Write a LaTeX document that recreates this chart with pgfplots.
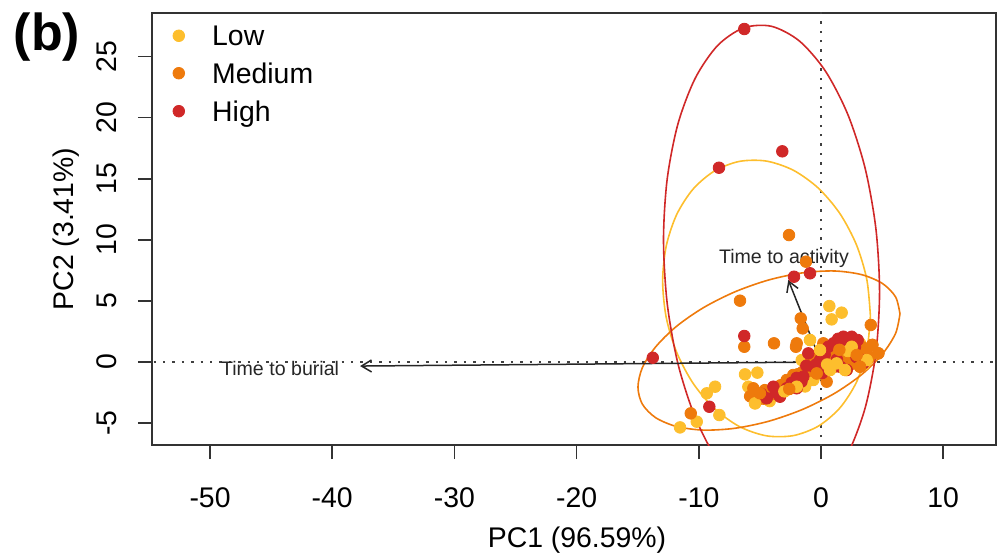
\documentclass[border=0pt]{standalone}
\usepackage{fontspec}
\setmainfont{Liberation Sans}
\usepackage{pgfplots}
\pgfplotsset{compat=1.18}
\usetikzlibrary{arrows.meta}
\definecolor{lowc}{RGB}{253,190,45}
\definecolor{medc}{RGB}{238,122,12}
\definecolor{highc}{RGB}{208,40,40}
\begin{document}
\begin{tikzpicture}
\useasboundingbox (-76pt,-56.5pt) rectangle (422.5pt,222.5pt);
\begin{axis}[
  at={(0,0)}, anchor=south west,
  scale only axis, width=422pt, height=216pt,
  xmin=-54.75, xmax=14.32, ymin=-6.79, ymax=28.56,
  axis line style={black!80, line width=0.8pt},
  xtick={-50,-40,-30,-20,-10,0,10},
  xticklabels={-50,-40,-30,-20,-10,0,10},
  ytick={-5,0,5,10,15,20,25},
  yticklabels={-5,0,5,10,15,20,25},
  tick pos=left,
  tick align=outside,
  major tick length=7pt,
  tick style={black!80, line width=0.8pt},
  tick label style={font=\fontsize{14.2pt}{17pt}\selectfont, text=black},
  xticklabel style={anchor=center, yshift=-19.5pt},
  yticklabel style={anchor=center, xshift=-15.5pt, rotate=90},
  legend style={at={(0,1)}, anchor=north west, yshift=-4.3pt, draw=none, fill=none,
    inner xsep=0pt, inner ysep=0pt, row sep=4.7pt,
    font=\fontsize{14.2pt}{17pt}\selectfont,
    nodes={inner sep=2pt, text depth=0pt}},
  legend cell align=left,
  legend image code/.code={\path (-13pt,0pt) (14.5pt,0pt); \draw[#1] plot coordinates {(0pt,0pt)};},
  pt/.style={only marks, mark=*, mark size=2.9pt, color=#1, mark options={draw=none, fill=#1}},
  refl/.style={black!75, line width=1.1pt, dash pattern=on 1.2pt off 3.5pt},
]
% reference lines
\addplot[refl, forget plot] coordinates {(-60,0) (20,0)};
\addplot[refl, forget plot] coordinates {(0,-10) (0,40)};

% Low
\addplot[pt=lowc] coordinates {
(0.68,4.58) (1.69,4.04) (0.87,3.49) (-0.90,1.80) (-6.22,-1.01) (-5.21,-0.87)
(-8.67,-2.02) (-9.35,-2.56) (-8.32,-4.34) (-10.17,-4.88) (-11.54,-5.35)
(-5.40,-3.38) (-5.95,-2.02) (-3.63,-2.29) (-3.36,-2.02) (-2.54,-2.02)
(-1.99,-2.02) (-1.17,-1.34) (-0.90,-1.47) (-0.63,-1.47) (0.19,-0.38)
(0.74,-0.65) (1.28,-0.11) (1.96,-0.65) (2.10,-0.65) (2.37,0.43) (2.92,0.43)
(3.19,1.53) (3.74,0.16) (-0.08,0.98) (1.28,0.71) (2.51,1.25) (-1.58,0.16)
(-4.80,-2.90) (-3.00,-2.40) (-2.20,-1.60) (-0.30,-1.00) (0.50,-0.20)
(1.60,0.30) (2.20,0.90) (3.20,0.80) (3.50,-0.20) (-4.20,-3.20) (-1.30,-2.00)
(0.90,1.20)
};
\addlegendentry{Low}
% Medium
\addplot[pt=medc] coordinates {
(-2.62,10.39) (-1.23,8.21) (-6.63,5.02) (-1.66,3.57) (-1.50,2.75) (-6.28,1.25)
(-3.85,1.53) (-1.99,1.53) (-2.05,1.25) (4.07,3.03) (4.69,0.71) (-10.66,-4.20)
(-5.54,-2.15) (-5.00,-2.56) (-4.70,-3.00) (-5.20,-3.10) (-4.20,-2.40)
(-3.30,-1.90) (-2.81,-1.47) (-2.27,-1.06) (-1.50,-0.80) (-0.35,-0.93)
(-0.90,-0.11) (0.46,-1.61) (0.19,1.53) (0.90,0.30) (1.15,-0.38) (1.80,-0.20)
(2.10,0.43) (2.92,0.57) (3.19,-0.38) (3.74,0.71) (3.90,0.30) (-0.50,0.50)
(-4.60,-2.30) (-3.80,-2.60) (-2.60,-2.20) (-1.90,-1.00) (-0.90,-0.70)
(0.00,-0.50) (0.70,0.90) (1.50,1.00) (2.40,-0.20) (2.70,1.60) (3.40,1.20)
(4.20,1.40) (-5.80,-2.80)
};
\addlegendentry{Medium}
% High
\addplot[pt=highc] coordinates {
(-6.28,27.25) (-3.17,17.24) (-8.35,15.90) (-2.21,6.98) (-0.90,7.26) (-6.28,2.13)
(-13.77,0.35) (-9.14,-3.66) (-4.44,-2.97) (-3.90,-2.02) (-3.36,-2.84)
(-2.81,-2.15) (-1.99,-2.15) (-1.45,-1.20) (-1.04,0.71) (-0.60,-0.40)
(-0.08,0.16) (0.60,1.25) (1.01,1.53) (1.40,1.90) (1.83,2.07) (2.51,2.07)
(2.78,1.25) (2.10,-0.65) (1.30,0.20) (2.90,0.40) (3.46,-0.11)
(-3.70,-2.50) (-2.40,-1.70) (-1.60,-1.60) (-0.40,-0.20) (0.30,0.60)
(0.90,-0.40) (1.70,1.30) (2.20,1.60) (3.00,1.80) (3.20,0.20) (-4.90,-2.60)
(-2.00,-1.30) (-1.20,-0.30) (0.10,-0.90) (1.60,-0.40)
};
\addlegendentry{High}
% overlays to mix the cluster
\addplot[pt=lowc, forget plot] coordinates {
(-0.90,1.80) (0.74,-0.65) (1.96,-0.65) (3.74,0.16) (-1.99,-2.02) (-5.40,-3.38)
(2.51,1.25) (-0.08,0.98) (1.28,-0.11) (-3.00,-2.40) (0.50,-0.20) (2.20,0.90)
};
\addplot[pt=medc, forget plot] coordinates {
(2.92,0.57) (-0.35,-0.93) (3.19,-0.38) (-5.00,-2.56) (4.69,0.71) (-2.60,-2.20)
(1.50,1.00) (4.20,1.40)
};

% ellipses
\addplot[lowc, line width=0.8pt, smooth, forget plot] coordinates {
(4.04,3.78) (3.75,6.74) (2.90,9.59) (1.55,12.14) (-0.21,14.22) (-2.26,15.69)
(-4.46,16.44) (-6.66,16.42) (-8.71,15.64) (-10.47,14.15) (-11.82,12.05)
(-12.67,9.48) (-12.96,6.62) (-12.67,3.66) (-11.82,0.81) (-10.47,-1.74)
(-8.71,-3.82) (-6.66,-5.29) (-4.46,-6.04) (-2.26,-6.02) (-0.21,-5.24)
(1.55,-3.75) (2.90,-1.65) (3.75,0.92) (4.04,3.78)
};
\addplot[medc, line width=0.8pt, smooth, forget plot] coordinates {
(6.46,3.94) (6.10,5.33) (5.02,6.43) (3.32,7.15) (1.10,7.45) (-1.49,7.30)
(-4.26,6.72) (-7.03,5.75) (-9.62,4.45) (-11.84,2.91) (-13.54,1.23)
(-14.62,-0.46) (-14.98,-2.06) (-14.62,-3.45) (-13.54,-4.55) (-11.84,-5.27)
(-9.62,-5.57) (-7.03,-5.42) (-4.26,-4.84) (-1.49,-3.87) (1.10,-2.57)
(3.32,-1.03) (5.02,0.65) (6.10,2.34) (6.46,3.94)
};
\addplot[highc, line width=0.8pt, smooth, forget plot] coordinates {
(-4.05,-11.75) (-1.76,-11.62) (0.37,-10.17) (2.20,-7.49) (3.61,-3.76)
(4.49,0.76) (4.79,5.76) (4.49,10.91) (3.61,15.85) (2.20,20.24) (0.37,23.79)
(-1.76,26.26) (-4.05,27.47) (-6.34,27.34) (-8.47,25.89) (-10.30,23.21)
(-11.71,19.48) (-12.59,14.96) (-12.89,10.00) (-12.59,4.81) (-11.71,-0.13)
(-10.30,-4.52) (-8.47,-8.07) (-6.34,-10.54) (-4.05,-11.75)
};

% loading arrows
\addplot[black!85, line width=0.75pt, -{Straight Barb[length=5pt,width=6pt]}, forget plot]
  coordinates {(0,0) (-37.72,-0.33)};
\addplot[black!85, line width=0.75pt, -{Straight Barb[length=5pt,width=6pt]}, forget plot]
  coordinates {(0,0) (-2.68,6.71)};
\node[font=\fontsize{9.8pt}{12pt}\selectfont, text=black!85] at (axis cs:-44.27,-0.57) {Time to burial};
\node[font=\fontsize{9.8pt}{12pt}\selectfont, text=black!85] at (axis cs:-3.03,8.47) {Time to activity};
\end{axis}
\node[font=\fontsize{26pt}{30pt}\selectfont\bfseries] at (-52.5pt,204pt) {(b)};
\node[rotate=90, font=\fontsize{14.2pt}{17pt}\selectfont] at (-43pt,108pt) {PC2 (3.41\%)};
\node[font=\fontsize{14.2pt}{17pt}\selectfont] at (212.5pt,-47.5pt) {PC1 (96.59\%)};
\end{tikzpicture}
\end{document}
